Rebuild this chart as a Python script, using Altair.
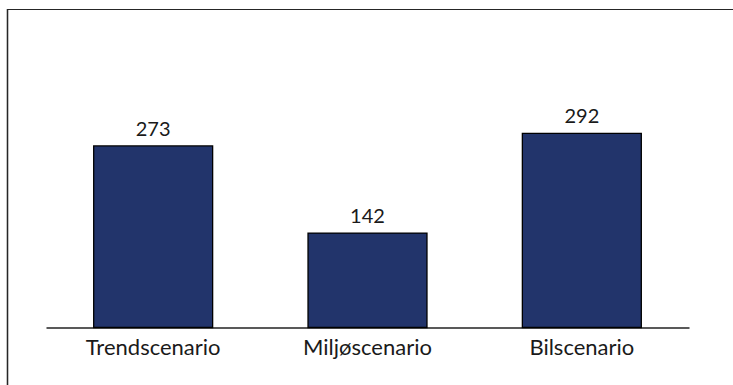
import altair as alt
import pandas as pd

# Scenario totals
scenarios = ["Trendscenario", "Miljøscenario", "Bilscenario"]
values = [273, 142, 292]

df = pd.DataFrame({"scenario": scenarios, "value": values})

FONT = "Lato"
BAR_COLOR = "#22346B"

PLOT_W = 643
PLOT_H = 318.5
LEFT = 46
TOP = 9
RIGHT = 733 - LEFT - PLOT_W
BOTTOM = 385 - TOP - PLOT_H

x_enc = alt.X(
    "scenario:N",
    sort=scenarios,
    title=None,
    scale=alt.Scale(paddingInner=0.445, paddingOuter=0.2225),
    axis=alt.Axis(
        labelAngle=0,
        labelFont=FONT,
        labelFontSize=22,
        labelColor="#1a1a1a",
        labelBaseline="alphabetic",
        labelPadding=27,
        ticks=False,
        domainColor="#222222",
        domainWidth=1.5,
    ),
)
y_enc = alt.Y(
    "value:Q",
    title=None,
    scale=alt.Scale(domain=[0, 479], nice=False),
    axis=None,
)

bars = alt.Chart(df).mark_bar(
    color=BAR_COLOR, stroke="#000000", strokeWidth=1.3
).encode(x=x_enc, y=y_enc)

labels = alt.Chart(df).mark_text(
    baseline="alphabetic", dy=-10, font=FONT, fontSize=20, color="#1a1a1a"
).encode(x=alt.X("scenario:N", sort=scenarios), y="value:Q", text="value:Q")

# Outer frame: top and left edges of the chart box
frame_top = alt.Chart(df).mark_rule(color="#262626", strokeWidth=1.2).encode(
    x=alt.value(7 - LEFT), x2=alt.value(740), y=alt.value(0.5)
)
frame_left = alt.Chart(df).mark_rule(color="#262626", strokeWidth=1.2).encode(
    x=alt.value(7.5 - LEFT), y=alt.value(0), y2=alt.value(400)
)

chart = (
    alt.layer(bars, labels, frame_top, frame_left)
    .properties(
        width=PLOT_W,
        height=PLOT_H,
        autosize=alt.AutoSizeParams(type="none"),
        padding={"left": LEFT, "top": TOP, "right": RIGHT, "bottom": BOTTOM},
        background="white",
    )
    .configure_view(stroke=None)
)

chart.save("out.html", embed_options={"renderer": "svg", "actions": False})
